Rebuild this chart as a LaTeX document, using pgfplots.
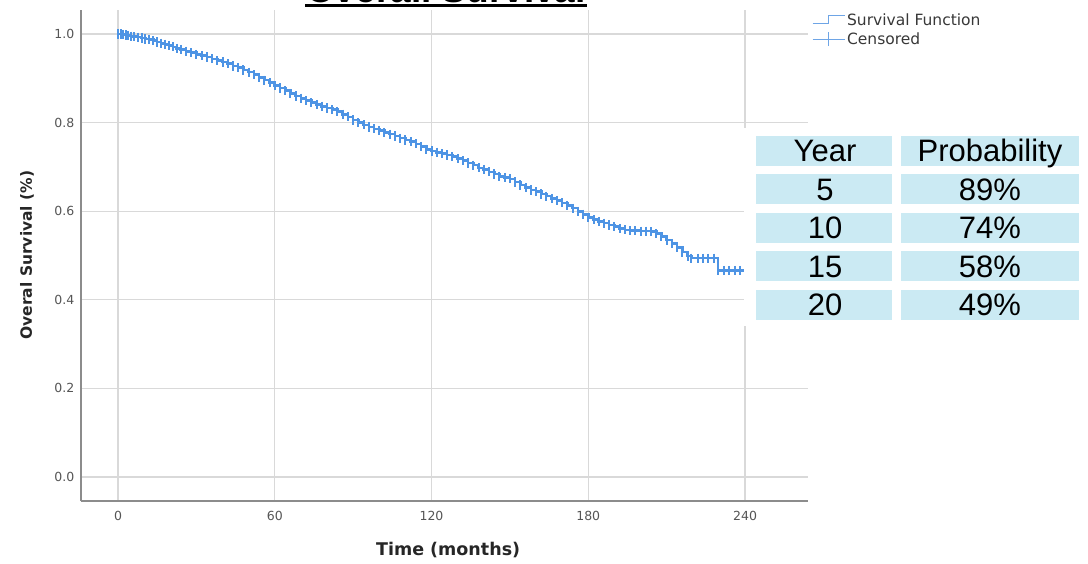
\documentclass[border=0pt]{standalone}
\usepackage{pgfplots}
\pgfplotsset{compat=1.18}
\usepackage{fontspec}
\setmainfont{DejaVu Sans}
\newfontfamily\arial{Liberation Sans}
\definecolor{kmblue}{RGB}{78,148,228}
\definecolor{legblue}{RGB}{110,165,230}
\definecolor{cellblue}{RGB}{203,234,243}
\definecolor{gridgray}{RGB}{217,217,217}
\definecolor{axisgray}{RGB}{140,140,140}
\definecolor{ticktext}{RGB}{85,85,85}

\pgfplotstableread{
t s
0 1.000
1 1.000
2 0.999
3 0.998
4 0.997
5 0.995
6 0.994
7.5 0.993
9 0.991
10.5 0.989
12 0.987
13.5 0.985
15 0.982
16.5 0.979
18 0.977
19.5 0.974
21 0.971
22.5 0.968
24 0.965
26 0.961
28 0.958
30 0.954
32 0.951
34 0.948
36 0.944
38 0.940
40 0.937
42 0.933
44 0.928
46 0.924
48 0.919
50 0.914
52 0.908
54 0.902
56 0.896
58 0.890
60 0.884
62 0.878
64 0.872
66 0.866
68 0.860
70 0.855
72 0.850
74 0.845
76 0.841
78 0.837
80 0.833
82 0.829
84 0.825
86 0.819
88 0.813
90 0.806
92 0.800
94 0.795
96 0.790
98 0.786
100 0.782
102 0.778
104 0.774
106 0.770
108 0.765
110 0.761
112 0.757
114 0.752
116 0.746
118 0.740
120 0.736
122 0.733
124 0.730
126 0.727
128 0.723
130 0.719
132 0.714
134 0.709
136 0.704
138 0.698
140 0.694
142 0.689
144 0.684
146 0.679
148 0.676
150 0.673
152 0.666
154 0.659
156 0.653
158 0.648
160 0.644
162 0.639
164 0.634
166 0.629
168 0.624
170 0.619
172 0.613
174 0.607
176 0.600
178 0.593
180 0.586
182 0.581
184 0.577
186 0.573
188 0.569
190 0.565
192 0.561
194 0.558
196 0.556
198 0.556
200 0.555
202 0.555
204 0.554
206 0.550
208 0.543
210 0.535
212 0.527
214 0.518
216 0.508
218 0.499
219.5 0.494
222 0.494
224 0.494
226 0.494
228 0.494
229.6 0.466
232 0.466
234 0.466
236 0.466
238 0.466
240 0.466
241 0.466
}\kmdata

\begin{document}
\begin{tikzpicture}
\begin{axis}[
  scale only axis, width=727pt, height=491pt,
  xmin=-14.16, xmax=264.11, ymin=-0.0542, ymax=1.0542,
  axis x line=bottom, axis y line=left,
  axis line style={axisgray, line width=1.2pt, -},
  xtick={0,60,120,180,240},
  ytick={0,0.2,0.4,0.6,0.8,1.0},
  yticklabel={\pgfmathprintnumber[fixed,fixed zerofill,precision=1]{\tick}},
  /pgf/number format/assume math mode=true,
  tick style={draw=none},
  grid=major,
  major grid style={gridgray, line width=1.2pt},
  ticklabel style={font=\fontsize{12.5}{14}\selectfont, text=ticktext},
  xticklabel style={yshift=-5pt},
  yticklabel style={xshift=-1pt},
  xlabel={Time (months)},
  ylabel={Overal Survival (\%)},
  xlabel style={at={(axis description cs:0.505,-0.0998)}, anchor=center, font=\fontsize{17.5}{19}\selectfont\bfseries, text=black!85},
  ylabel style={at={(axis description cs:-0.0743,0.501)}, anchor=center, font=\fontsize{15.5}{18}\selectfont\bfseries, text=black!85},
  legend style={at={(axis description cs:1.004,0.998)}, anchor=north west, draw=none, fill=none,
    font=\fontsize{15.5}{17}\selectfont, text=black!78, row sep=1pt, inner sep=1pt},
  legend cell align=left,
]
\addplot[kmblue, line width=2.6pt, const plot, mark=|, mark size=4.6pt,
  mark options={line width=2pt, solid}, forget plot] table[x=t, y=s] {\kmdata};
\addlegendimage{legend image code/.code={\draw[legblue, line width=1pt] (0pt,-3pt) -- (16pt,-3pt) -- (16pt,5pt) -- (32pt,5pt);}}
\addlegendentry{Survival Function}
\addlegendimage{legend image code/.code={\draw[legblue, line width=1pt] (0pt,0pt) -- (32pt,0pt); \draw[legblue, line width=1pt] (16pt,-7pt) -- (16pt,7pt);}}
\addlegendentry{Censored}
\coordinate (O) at (axis cs:-45.17,-0.1941);
\end{axis}

\path (O) rectangle ++(1088pt,563pt);

\begin{scope}[shift={(O)}, x=1pt, y=1pt]
% table overlay
\fill[white] (743.5,237) rectangle (1085,435);
\foreach \k in {0,1,2,3,4} {
  \fill[cellblue] (756,{427-38.5*\k}) rectangle (892,{397-38.5*\k});
  \fill[cellblue] (901,{427-38.5*\k}) rectangle (1079,{397-38.5*\k});
}
\begin{scope}[every node/.style={anchor=base, inner sep=0pt, font=\arial\fontsize{31}{33}\selectfont}]
\node at (825,401) {Year};
\node at (990,401) {Probability};
\node at (825,{401-38.5}) {5};
\node at (990,{401-38.5}) {89\%};
\node at (825,{401-77}) {10};
\node at (990,{401-77}) {74\%};
\node at (825,{401-115.5}) {15};
\node at (990,{401-115.5}) {58\%};
\node at (825,{401-154}) {20};
\node at (990,{401-154}) {49\%};
\end{scope}
% cut-off title (only its lower edge lies on the page)
\node[overlay, anchor=base, inner sep=0pt, font=\arial\bfseries\fontsize{37}{40}\selectfont] at (446,560) {Overall Survival};
\draw[overlay, line width=2.6pt] (305,557.7) -- (587,557.7);
\end{scope}
\end{tikzpicture}
\end{document}
